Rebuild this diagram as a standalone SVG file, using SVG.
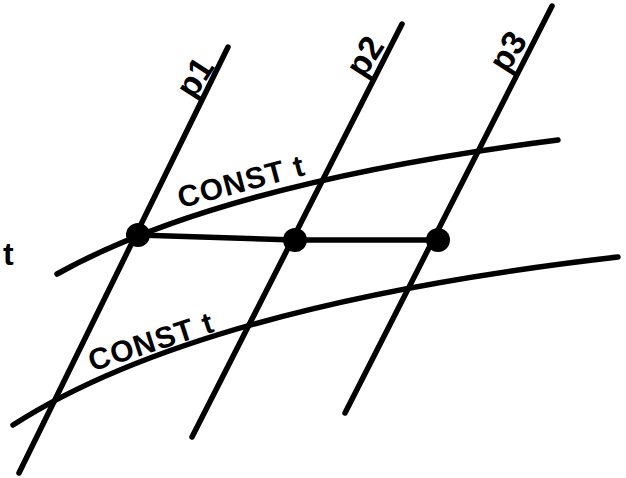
<svg xmlns="http://www.w3.org/2000/svg" width="626" height="478" viewBox="0 0 626 478">
<style>
.ln{fill:none;stroke:#000;stroke-width:5.5;stroke-linecap:round;stroke-linejoin:round}
.dot{fill:#000}
.lbl{font-family:"Liberation Sans",Arial,sans-serif;font-weight:bold;fill:#000}
</style>
<rect width="626" height="478" fill="#fff"/>
<g id="connectors">
<path class="ln" d="M228,47 L19,473"/>
<path class="ln" d="M402,24 L192,437"/>
<path class="ln" d="M552,6 L345,413"/>
<path class="ln" d="M57,274 Q220,183 558,140"/>
<path class="ln" d="M13,425 Q200,305 618,257"/>
<path class="ln" d="M138,235 L295,240 L438,240"/>
</g>
<g id="dot1"><circle class="dot" cx="138" cy="235" r="12"/></g>
<g id="dot2"><circle class="dot" cx="295" cy="240" r="12"/></g>
<g id="dot3"><circle class="dot" cx="438" cy="240" r="12"/></g>
<g id="label-p1"><text class="lbl" font-size="34" text-anchor="middle" transform="translate(196,78) rotate(-57)" dy="0.3em">p1</text></g>
<g id="label-p2"><text class="lbl" font-size="34" text-anchor="middle" transform="translate(366,57) rotate(-57)" dy="0.3em">p2</text></g>
<g id="label-p3"><text class="lbl" font-size="34" text-anchor="middle" transform="translate(509,52) rotate(-57)" dy="0.3em">p3</text></g>
<g id="label-const-upper"><text class="lbl" font-size="30" letter-spacing="1" text-anchor="middle" transform="translate(241,181) rotate(-15)" dy="0.36em">CONST t</text></g>
<g id="label-const-lower"><text class="lbl" font-size="30" letter-spacing="1" text-anchor="middle" transform="translate(151,341) rotate(-18)" dy="0.36em">CONST t</text></g>
<g id="label-t-left"><text class="lbl" font-size="32" x="3" y="265">t</text></g>
</svg>
